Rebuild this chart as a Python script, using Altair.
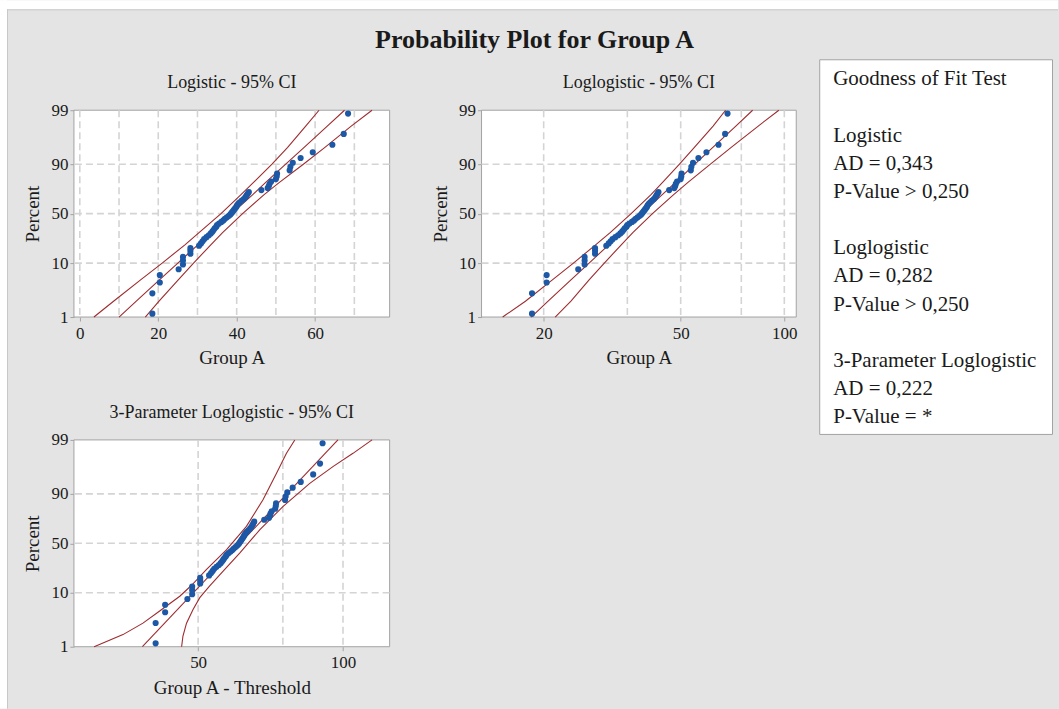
import math

import altair as alt
import pandas as pd

# ---------------------------------------------------------------- text
TITLE = "Probability Plot for Group A"
PANEL_TITLES = ["Logistic - 95% CI", "Loglogistic - 95% CI",
                "3-Parameter Loglogistic - 95% CI"]
X_TITLES = ["Group A", "Group A", "Group A - Threshold"]
Y_TITLE = "Percent"
GOF_BLOCKS = [
    ["Goodness of Fit Test"],
    ["Logistic", "AD = 0,343", "P-Value > 0,250"],
    ["Loglogistic", "AD = 0,282", "P-Value > 0,250"],
    ["3-Parameter Loglogistic", "AD = 0,222", "P-Value = *"],
]
GOF_BLOCK_START = [0, 2, 6, 10]          # line index of each block

# ---------------------------------------------------------------- sample
GROUP_A = [
    18.5, 18.5, 20.4, 20.4, 25.2, 26.3, 26.3, 26.3, 28.2, 28.2,
    28.2, 30.4, 30.9, 31.3, 31.7, 32.3, 32.9, 33.4, 33.8, 34.1,
    34.4, 34.8, 35.0, 35.5, 36.1, 36.6, 37.0, 37.5, 38.0, 38.4,
    38.7, 39.0, 39.3, 39.6, 39.9, 40.1, 40.4, 40.8, 41.3, 41.8,
    42.2, 42.5, 42.8, 43.1, 46.3, 47.9, 48.2, 48.4, 48.8, 50.0,
    50.2, 50.3, 53.5, 53.7, 54.3, 56.3, 59.4, 64.4, 67.3, 68.4,
]
THRESHOLD = -22.3

# ---------------------------------------------------------------- probability axis
PCT_TICKS = [1, 10, 50, 90, 99]
PCT_GRID = [10, 50, 90]

# ---------------------------------------------------------------- logistic fit + 95% CI
LOGI_PCT = [1, 2, 5, 10, 20, 30, 50, 70, 80, 90, 95, 98, 99]
LOGI_FIT = [10.0, 14.4, 20.3, 25.0, 30.1, 33.4, 38.75, 44.1, 47.4, 52.5, 57.2, 63.1, 67.5]
LOGI_LO = [3.6, 8.6, 15.5, 21.0, 26.8, 30.4, 36.0, 41.1, 44.3, 49.0, 53.0, 57.6, 61.0]
LOGI_HI = [16.7, 20.2, 25.1, 29.0, 33.4, 36.4, 41.5, 47.0, 50.9, 57.0, 62.5, 69.2, 74.5]

# ---------------------------------------------------------------- loglogistic fit + 95% CI
LL_PCT = [1, 2, 5, 10, 20, 30, 50, 70, 80, 90, 95, 98, 99]
LL_FIT = [18.4, 20.6, 24.0, 27.1, 30.9, 33.7, 38.6, 44.2, 48.3, 55.0, 62.0, 72.3, 80.9]
LL_LO = [15.2, 17.7, 21.2, 24.4, 28.3, 31.2, 35.9, 41.0, 44.3, 49.6, 54.8, 62.1, 67.5]
LL_HI = [21.6, 24.0, 27.1, 30.0, 33.6, 36.3, 41.4, 47.7, 52.5, 61.0, 70.1, 84.0, 96.4]

# ---------------------------------------------------------------- 3-parameter loglogistic fit + 95% CI
LL3_FIT_PCT = [1, 99]
LL3_FIT = [38.3, 97.6]
LL3_LO_PCT = [1, 1.7, 2.8, 4.7, 8.7, 13.3, 23.7, 43, 68, 87.4, 95.8, 98.2, 99]
LL3_LO = [30.4, 34.9, 38.4, 41.6, 45.8, 48.4, 52.0, 57.3, 63.0, 68.2, 72.8, 76.3, 79.4]
LL3_HI_PCT = [1, 1.6, 2.8, 5, 8.2, 13, 22.4, 39.4, 64.7, 83.8, 93.5, 96.8, 98.2, 99]
LL3_HI = [46.2, 46.5, 47.3, 48.8, 50.4, 52.8, 56.3, 61.0, 67.2, 75.1, 85.3, 95.3, 104.9, 114.9]

# ---------------------------------------------------------------- styling
FONT = "Liberation Serif"
INK = "#1a1a1a"
POINT_BLUE = "#1c58a5"
CI_RED = "#9e2b2e"
GRID_GREY = "#d4d4d4"
FRAME_GREY = "#a3a3a3"
SHEET_GREY = "#e4e4e4"
SHEET_EDGE = "#c8c8c8"

HEIGHT = 207
W1, W2, W3 = 316, 315, 316

LOGIT = "log(datum.pct / (100 - datum.pct))"
LG_TICKS = [math.log(p / (100 - p)) for p in PCT_TICKS]
Y_SCALE = alt.Scale(domain=[LG_TICKS[0], LG_TICKS[-1]], nice=False, zero=False)
Y_AXIS = alt.Axis(
    values=LG_TICKS,
    labelExpr="format(100 / (1 + exp(-datum.value)), '.0f')",
    title=Y_TITLE, titleX=-35.5, titleY=HEIGHT / 2,
    titleBaseline="alphabetic", titleAngle=270, labelPadding=2,
)

ONE = pd.DataFrame({"k": [0]})


def curves_frame(parts):
    rows = []
    for name, pcts, xs in parts:
        rows += [{"curve": name, "pct": p, "x": x} for p, x in zip(pcts, xs)]
    return pd.DataFrame(rows)


def text_at(x, y, text, size, **kw):
    return alt.Chart(ONE).mark_text(
        font=FONT, fontSize=size, color=INK, **kw
    ).encode(x=alt.value(x), y=alt.value(y), text=alt.value(text))


def box(x, x2, y, y2, **style):
    return alt.Chart(ONE).mark_rect(**style).encode(
        x=alt.value(x), x2=alt.value(x2), y=alt.value(y), y2=alt.value(y2))


def panel(width, x_scale, x_ticks, x_grid, x_title, x_expr, curves, title, extras=()):
    x_enc = alt.X("x:Q", scale=x_scale,
                  axis=alt.Axis(values=x_ticks, format="d", title=x_title,
                                titleY=47, titleBaseline="alphabetic", labelPadding=4))
    y_enc = alt.Y("lg:Q", scale=Y_SCALE, axis=Y_AXIS)

    frame = box(0, width, 0, HEIGHT, fill="white", stroke=FRAME_GREY, strokeWidth=1)
    vgrid = alt.Chart(pd.DataFrame({"x": x_grid})).mark_rule(
        color=GRID_GREY, strokeWidth=1.6, strokeDash=[7, 4]).encode(x=x_enc)
    hgrid = alt.Chart(pd.DataFrame({"pct": PCT_GRID})).transform_calculate(
        lg=LOGIT).mark_rule(color=GRID_GREY, strokeWidth=1.6, strokeDash=[7, 4]).encode(y=y_enc)
    ci = alt.Chart(curves).transform_calculate(lg=LOGIT).mark_line(
        color=CI_RED, strokeWidth=1.1).encode(
        x=x_enc, y=y_enc, detail="curve:N", order="pct:Q")
    pts = (
        alt.Chart(pd.DataFrame({"value": GROUP_A}))
        .transform_window(rank="row_number()", sort=[alt.SortField("value", order="ascending")])
        .transform_joinaggregate(n="count()")
        .transform_calculate(pct="(datum.rank - 0.3) / (datum.n + 0.4) * 100")
        .transform_calculate(lg=LOGIT, x=x_expr)
        .mark_circle(size=38, color=POINT_BLUE, opacity=1)
        .encode(x=x_enc, y=y_enc)
    )
    head = text_at(width / 2, -22, title, 18, align="center", baseline="alphabetic")
    return alt.layer(*extras, frame, vgrid, hgrid, ci, pts, head).properties(
        width=width, height=HEIGHT)


# Page furniture placed relative to the first panel's plot area, whose
# origin sits at (74, 110) on the 1059 x 709 page.
page_extent = box(-74, 985, -110, 599, fill="white", fillOpacity=0)
white_top = box(-74, 985, -110, -101, fill="white")
white_left = box(-74, -67, -110, 599, fill="white")
edge_top = alt.Chart(ONE).mark_rule(color=SHEET_EDGE, strokeWidth=1).encode(
    x=alt.value(-67), x2=alt.value(985), y=alt.value(-100.5))
edge_left = alt.Chart(ONE).mark_rule(color=SHEET_EDGE, strokeWidth=1).encode(
    x=alt.value(-66.5), y=alt.value(-101), y2=alt.value(599))
main_title = text_at(461, -62, TITLE, 26, align="center", baseline="alphabetic",
                     fontWeight="bold")
gof_box = box(746.5, 979.5, -50.5, 324.5, fill="white", stroke=FRAME_GREY, strokeWidth=1)
gof_text = [
    text_at(760, -25 + 28.2 * start, lines, 21, align="left", baseline="alphabetic",
            lineHeight=28.2)
    for start, lines in zip(GOF_BLOCK_START, GOF_BLOCKS)
]

p1 = panel(
    W1,
    alt.Scale(domain=[-1.5, 79], nice=False, zero=False),
    [0, 20, 40, 60], [0, 10, 20, 30, 40, 50, 60, 70],
    X_TITLES[0], "datum.value",
    curves_frame([("lo", LOGI_PCT, LOGI_LO), ("fit", LOGI_PCT, LOGI_FIT), ("hi", LOGI_PCT, LOGI_HI)]),
    PANEL_TITLES[0],
    extras=[page_extent, white_top, white_left, edge_top, edge_left,
            main_title, gof_box, *gof_text],
)
p2 = panel(
    W2,
    alt.Scale(type="log", domain=[13.2, 108.3], nice=False),
    [20, 50, 100], [20, 35, 50, 75, 100],
    X_TITLES[1], "datum.value",
    curves_frame([("lo", LL_PCT, LL_LO), ("fit", LL_PCT, LL_FIT), ("hi", LL_PCT, LL_HI)]),
    PANEL_TITLES[1],
)
p3 = panel(
    W3,
    alt.Scale(type="log", domain=[27.6, 125], nice=False),
    [50, 100], [50, 75, 100],
    X_TITLES[2], f"datum.value - ({THRESHOLD})",
    curves_frame([("lo", LL3_LO_PCT, LL3_LO), ("fit", LL3_FIT_PCT, LL3_FIT),
                  ("hi", LL3_HI_PCT, LL3_HI)]),
    PANEL_TITLES[2],
)

chart = (
    alt.concat(p1, p2, p3, columns=2, spacing={"row": 123, "column": 92}, bounds="flush")
    .properties(padding=0)
    .configure(background=SHEET_GREY)
    .configure_view(stroke=None)
    .configure_axis(
        labelFont=FONT, titleFont=FONT, labelFontSize=17, titleFontSize=19,
        labelColor=INK, titleColor=INK, titleFontWeight="normal",
        tickColor=FRAME_GREY, tickSize=4, domain=False, grid=False,
    )
)

chart.save("out.html", embed_options={"renderer": "svg", "actions": False})
